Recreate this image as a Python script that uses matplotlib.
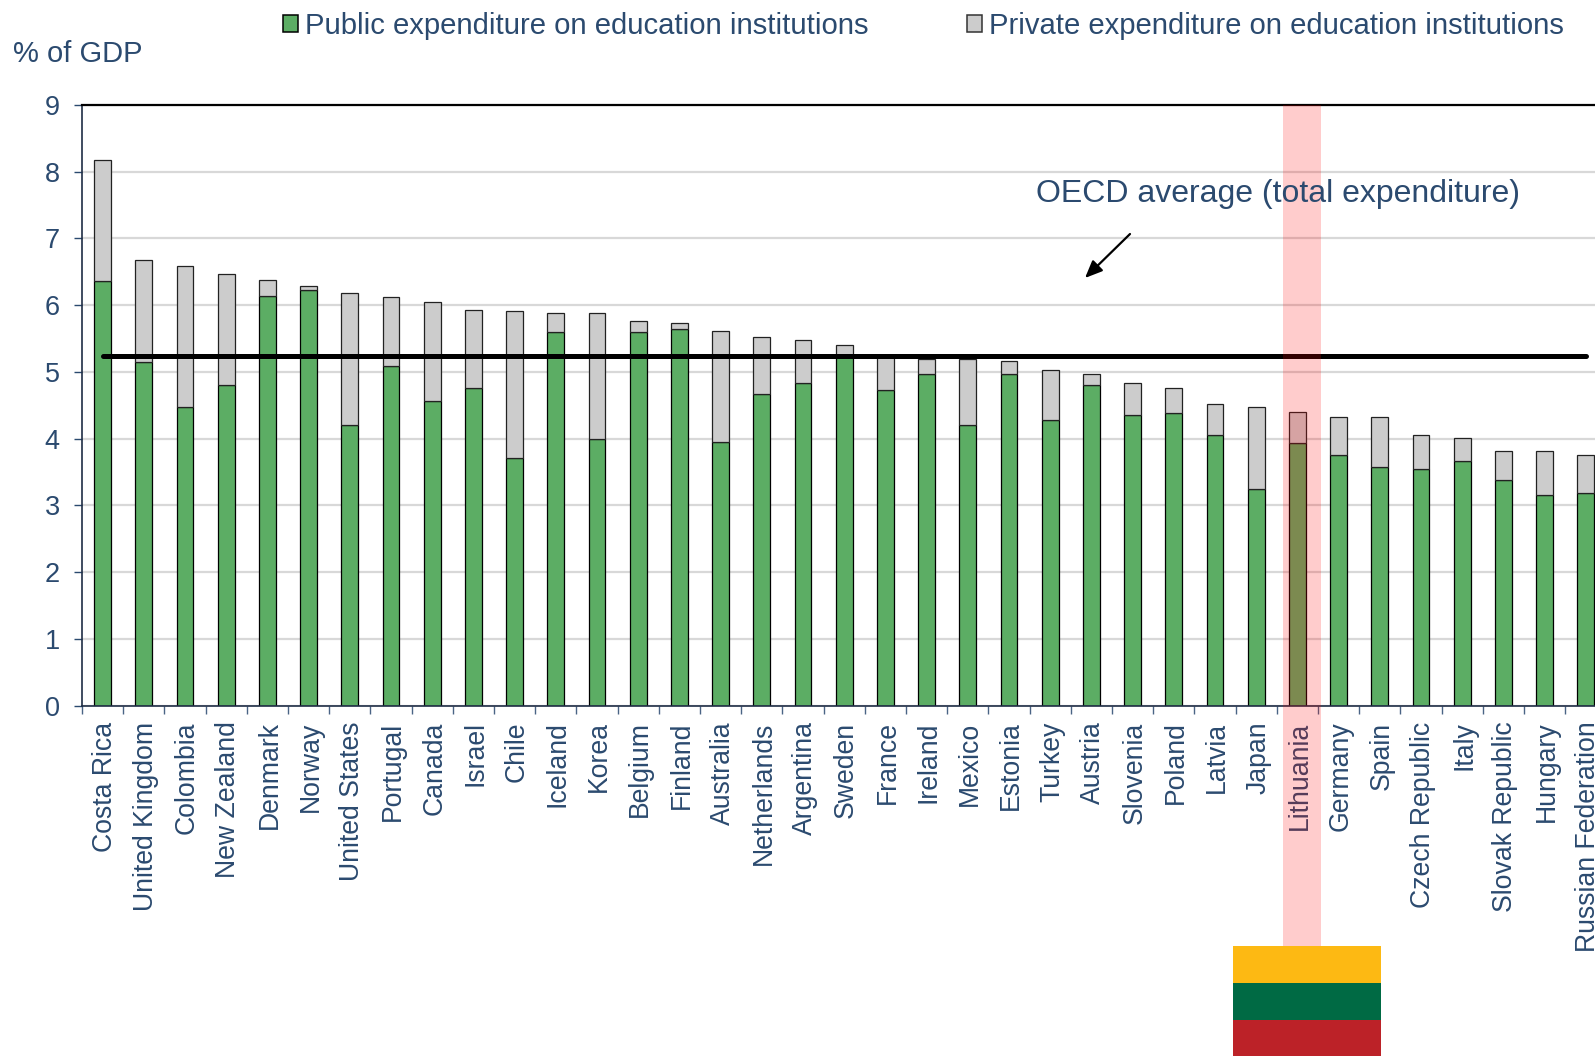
import matplotlib
matplotlib.use("Agg")
import matplotlib.pyplot as plt
from matplotlib.patches import Rectangle, Patch
from matplotlib.ticker import FixedLocator, NullFormatter
from matplotlib.transforms import blended_transform_factory, ScaledTranslation

W, H = 1595, 1056
countries = ["Costa Rica", "United Kingdom", "Colombia", "New Zealand", "Denmark", "Norway",
             "United States", "Portugal", "Canada", "Israel", "Chile", "Iceland", "Korea",
             "Belgium", "Finland", "Australia", "Netherlands", "Argentina", "Sweden", "France",
             "Ireland", "Mexico", "Estonia", "Turkey", "Austria", "Slovenia", "Poland", "Latvia",
             "Japan", "Lithuania", "Germany", "Spain", "Czech Republic", "Italy",
             "Slovak Republic", "Hungary", "Russian Federation"]
public = [6.36, 5.15, 4.47, 4.80, 6.14, 6.22, 4.21, 5.09, 4.57, 4.76, 3.71, 5.60, 4.00,
          5.60, 5.65, 3.95, 4.67, 4.84, 5.24, 4.73, 4.97, 4.20, 4.97, 4.28, 4.80, 4.36,
          4.38, 4.05, 3.25, 3.93, 3.75, 3.58, 3.54, 3.66, 3.38, 3.15, 3.18]
total = [8.18, 6.68, 6.59, 6.46, 6.38, 6.28, 6.18, 6.12, 6.05, 5.93, 5.91, 5.89, 5.88,
         5.77, 5.74, 5.61, 5.53, 5.48, 5.40, 5.23, 5.20, 5.20, 5.17, 5.03, 4.97, 4.84,
         4.76, 4.52, 4.48, 4.40, 4.33, 4.32, 4.05, 4.01, 3.82, 3.81, 3.76]
private = [round(t - p, 2) for t, p in zip(total, public)]
oecd_average = [5.24] * len(countries)
y_ticks = list(range(0, 10))

NAVY = "#2B4A6F"
GREEN = "#5CAD64"
GREY = "#CCCCCC"
plt.rcParams["font.family"] = ["Liberation Sans", "DejaVu Sans"]

fig = plt.figure(figsize=(W / 100, H / 100), dpi=100)


def fx(x):
    return x / W


def fy(y):
    return 1 - y / H


left, right, top, bottom = 82, 1606.4, 105, 705.5
ax = fig.add_axes([fx(left), fy(bottom), (right - left) / W, (bottom - top) / H])
x = list(range(len(countries)))

ax.set_axisbelow(True)
ax.yaxis.grid(True, color="#D8D8D8", lw=1.6)
ax.xaxis.grid(False)
bars_pub = ax.bar(x, public, width=0.41, color=GREEN, edgecolor="black", lw=0.9, zorder=2,
                  label="Public expenditure on education institutions")
bars_pri = ax.bar(x, private, bottom=public, width=0.41, color=GREY, edgecolor="#222222", lw=0.9,
                  zorder=2, label="Private expenditure on education institutions")
ax.plot(x, oecd_average, color="black", lw=3.6, solid_capstyle="round", zorder=3)

ax.set_xlim(-0.5, len(countries) - 0.5)
ax.set_ylim(0, 9)
ax.set_yticks(y_ticks)
ax.tick_params(axis="y", length=6, width=1, color=NAVY, labelcolor=NAVY, labelsize=19.5, pad=10)
ax.set_xticks(x)
ax.set_xticklabels(countries, rotation=90, ha="center", va="top")
ax.tick_params(axis="x", which="major", length=0, labelcolor=NAVY, labelsize=19.2, pad=11.5)
label_shift = ScaledTranslation(2 / 100, 0, fig.dpi_scale_trans)
for lab in ax.get_xticklabels():
    lab.set_transform(lab.get_transform() + label_shift)
ax.xaxis.set_minor_locator(FixedLocator([i - 0.5 for i in range(len(countries) + 1)]))
ax.xaxis.set_minor_formatter(NullFormatter())
ax.tick_params(axis="x", which="minor", length=6, width=1, color="#4A6485")
for s in ("left", "bottom"):
    ax.spines[s].set_color("#1F2D45")
    ax.spines[s].set_linewidth(1.2)
ax.spines["top"].set_color("black")
ax.spines["top"].set_linewidth(1.6)
ax.spines["right"].set_visible(False)

fig.text(fx(13), fy(62), "% of GDP", color=NAVY, fontsize=21, va="baseline", ha="left")
fig.text(fx(1036), fy(202), "OECD average (total expenditure)", color=NAVY, fontsize=23.05,
         va="baseline", ha="left")
ax.annotate("", xy=(fx(1085), fy(278)), xytext=(fx(1130), fy(234)),
            xycoords="figure fraction", textcoords="figure fraction",
            arrowprops=dict(arrowstyle="-|>,head_width=0.45,head_length=1.05", color="black",
                            lw=1.6, shrinkA=0, shrinkB=0))

leg = fig.legend(handles=[Patch(facecolor=GREEN, edgecolor="black", lw=1.1,
                                label="Public expenditure on education institutions"),
                          Patch(facecolor=GREY, edgecolor="#333333", lw=1.1,
                                label="Private expenditure on education institutions")],
                 loc="upper left", bbox_to_anchor=(fx(283), fy(12)), ncol=2, frameon=False,
                 fontsize=21.1, handlelength=0.52, handleheight=0.52, handletextpad=0.24,
                 columnspacing=3.34, borderpad=0, borderaxespad=0)
for t in leg.get_texts():
    t.set_color(NAVY)

# Highlight band over Lithuania, running from the plot top down to the flag
i_lt = countries.index("Lithuania")
band_tr = blended_transform_factory(ax.transData, ax.transAxes)
ax.add_patch(Rectangle((i_lt - 0.36, 1), 0.93, -(946 - top) / (bottom - top), transform=band_tr,
                       facecolor="red", alpha=0.2, edgecolor="none", clip_on=False, zorder=10))

# Flag of Lithuania
for y0, y1, c in [(946, 983, "#FDB913"), (983, 1020, "#006A44"), (1020, 1056, "#BC2228")]:
    fig.add_artist(Rectangle((fx(1233), fy(y1)), (1381 - 1233) / W, (y1 - y0) / H,
                             transform=fig.transFigure, facecolor=c, edgecolor="none", zorder=11))

fig.savefig("out.png", dpi=100)
